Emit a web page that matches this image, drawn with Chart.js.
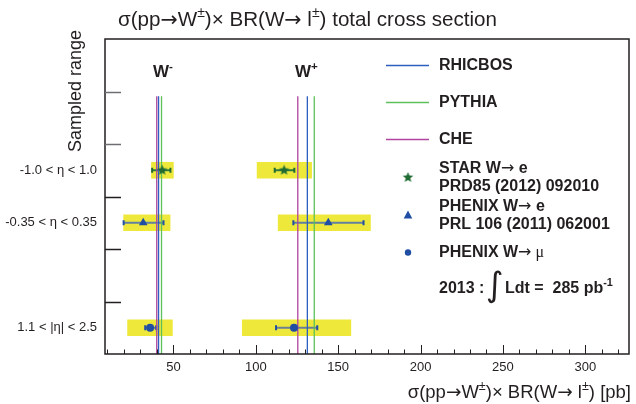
<!DOCTYPE html>
<html>
<head>
<meta charset="utf-8">
<script src="https://cdn.jsdelivr.net/npm/chart.js@4/dist/chart.umd.min.js"></script>
<style>
  html, body { margin: 0; background: #fff; }
</style>
</head>
<body>
<canvas id="c" width="636" height="404"></canvas>
<script>
// rows (eta ranges) and where they sit on the y scale (0 = top, 6 = bottom)
const ROWS   = ['-1.0 < η < 1.0', '-0.35 < η < 0.35', '1.1 < |η| < 2.5'];
const ROW_Y  = [2.5, 3.5, 5.5];
const Y_EDGES = [1, 2, 3, 4, 5];
const X_TICKS = [50, 100, 150, 200, 250, 300];

// STAR W->e  [W-, W+]
const STAR_X   = [43.2, 117.2];
const STAR_LO  = [37.1, 111.5];
const STAR_HI  = [48.2, 123.4];
const STAR_BOX = [[36.7, 50.0], [100.8, 133.9]];
// PHENIX W->e
const PHE_X   = [31.7, 144.0];
const PHE_LO  = [19.8, 122.8];
const PHE_HI  = [44.0, 165.4];
const PHE_BOX = [[19.8, 48.0], [113.6, 169.6]];
// PHENIX W->mu
const PHM_X   = [35.9, 123.2];
const PHM_LO  = [32.9, 112.3];
const PHM_HI  = [39.6, 137.3];
const PHM_BOX = [[22.2, 49.4], [91.8, 157.7]];
// theory [W-, W+]
const RHICBOS = [41.0, 131.3];
const PYTHIA  = [42.8, 135.5];
const CHE     = [39.9, 125.5];
const THEORY_Y = [1.09, 6];

const FONT = '"Liberation Sans", Arial, Helvetica, sans-serif';
const ARROW_FONT = '"DejaVu Sans", sans-serif';
const INK = '#231f20';
const YELLOW = '#eee83a';
const C_BLUE = '#2d5fbf', C_GREEN = '#5dc05a', C_MAG = '#b0449e';
const M_GREEN = '#1f6b32', M_BLUE = '#1f4ea3';

function starCanvas(r, col) {
  const s = Math.ceil(r * 2 + 2);
  const c = document.createElement('canvas');
  c.width = c.height = s;
  const g = c.getContext('2d');
  g.fillStyle = col;
  g.beginPath();
  for (let i = 0; i < 10; i++) {
    const rr = i % 2 ? r * 0.45 : r;
    const a = -Math.PI / 2 + i * Math.PI / 5;
    g.lineTo(s / 2 + rr * Math.cos(a), s / 2 + rr * Math.sin(a));
  }
  g.closePath(); g.fill();
  return c;
}
const STAR_IMG = starCanvas(5.5, M_GREEN);

const pts = (xs, y) => xs.map(x => ({ x, y }));
const boxes = (bs, y) => bs.map(b => ({ x: b, y }));
const errs = (lo, hi, y) => {
  const out = [];
  lo.forEach((l, i) => { if (i) out.push({ x: null, y: null }); out.push({ x: l, y }, { x: hi[i], y }); });
  return out;
};
const vline = (x) => THEORY_Y.map(y => ({ x, y }));

const datasets = [];
// yellow boxes
datasets.push({
  type: 'bar', indexAxis: 'y', order: 10,
  data: [...boxes(STAR_BOX, ROW_Y[0]), ...boxes(PHE_BOX, ROW_Y[1]), ...boxes(PHM_BOX, ROW_Y[2])],
  backgroundColor: YELLOW, borderWidth: 0, barThickness: 16, grouped: false,
});
// error bars
[[STAR_LO, STAR_HI, ROW_Y[0], '#2e7a3e', M_GREEN],
 [PHE_LO, PHE_HI, ROW_Y[1], '#62809f', M_BLUE],
 [PHM_LO, PHM_HI, ROW_Y[2], '#6d7f92', M_BLUE]].forEach(([lo, hi, y, lc, cc]) => {
  datasets.push({
    type: 'line', order: 8, data: errs(lo, hi, y), spanGaps: false,
    borderColor: lc, borderWidth: 2, pointStyle: 'line', rotation: 90,
    pointRadius: 2.5, pointBorderColor: cc, pointBorderWidth: 2,
  });
});
// theory lines
[[RHICBOS, C_BLUE], [PYTHIA, C_GREEN], [CHE, C_MAG]].forEach(([xs, col]) => {
  xs.forEach(x => datasets.push({
    type: 'line', order: 5, data: vline(x), borderColor: col, borderWidth: 1.3, pointRadius: 0,
  }));
});
// markers
datasets.push({ type: 'scatter', order: 1, data: pts(STAR_X, ROW_Y[0]), pointStyle: STAR_IMG, pointRadius: 6 });
datasets.push({ type: 'scatter', order: 1, data: pts(PHE_X, ROW_Y[1]), pointStyle: 'triangle', pointRadius: 5,
  backgroundColor: M_BLUE, borderColor: M_BLUE, borderWidth: 0 });
datasets.push({ type: 'scatter', order: 1, data: pts(PHM_X, ROW_Y[2]), pointStyle: 'circle', pointRadius: 4,
  backgroundColor: M_BLUE, borderColor: M_BLUE, borderWidth: 0 });

// text pieces: [text, isSup, fontFamily, weight]
function rich(ctx, parts, x, y, size, weight, align) {
  const f = (p) => `${p[3] || weight} ${p[1] ? size * 0.68 : size}px ${p[2] || FONT}`;
  let w = 0;
  parts.forEach(p => { ctx.font = f(p); w += ctx.measureText(p[0]).width; });
  let cx = align === 'right' ? x - w : align === 'center' ? x - w / 2 : x;
  ctx.textAlign = 'left'; ctx.textBaseline = 'alphabetic';
  parts.forEach(p => {
    ctx.font = f(p);
    ctx.fillText(p[0], cx, p[1] ? y - size * 0.42 : y);
    cx += ctx.measureText(p[0]).width;
  });
}
const AR = ['→', 0, ARROW_FONT, 'normal'];
const sigmaParts = (tail) => [['σ(pp'], AR, ['W'], ['±', 1], [')× BR(W'], AR, [' l'], ['±', 1], [tail]];

const decor = {
  id: 'decor',
  afterDraw(chart) {
    const { ctx, chartArea: a, scales: { x, y } } = chart;
    ctx.save();
    // frame
    ctx.strokeStyle = INK; ctx.lineWidth = 1.5;
    ctx.strokeRect(a.left, a.top, a.right - a.left, a.bottom - a.top);
    // y bin edges (inward)
    Y_EDGES.forEach((v, i) => {
      const py = Math.round(y.getPixelForValue(v)) + 0.5;
      ctx.strokeStyle = i < 2 ? '#6d6e71' : INK; ctx.lineWidth = 1.5;
      ctx.beginPath(); ctx.moveTo(a.left, py); ctx.lineTo(a.left + 16, py); ctx.stroke();
    });
    // x ticks (inward)
    ctx.strokeStyle = INK; ctx.lineWidth = 1;
    for (let v = 10; v <= 320; v += 10) {
      const px = Math.round(x.getPixelForValue(v)) + 0.5;
      const len = v % 50 === 0 ? 9 : 4.5;
      ctx.beginPath(); ctx.moveTo(px, a.bottom); ctx.lineTo(px, a.bottom - len); ctx.stroke();
    }
    ctx.fillStyle = INK;
    // title
    rich(ctx, sigmaParts(') total cross section'), 118, 26, 20.6, 'normal', 'left');
    // x title
    rich(ctx, sigmaParts(') [pb]'), 631, 398, 18.5, 'normal', 'right');
    // y title
    ctx.save();
    ctx.translate(80.5, 30); ctx.rotate(-Math.PI / 2);
    ctx.font = `18px ${FONT}`; ctx.textAlign = 'right'; ctx.textBaseline = 'alphabetic';
    ctx.fillText('Sampled range', 0, 0);
    ctx.restore();
    // W labels
    rich(ctx, [['W'], ['-', 1]], 153, 77, 17, 'bold', 'left');
    rich(ctx, [['W'], ['+', 1]], 295, 77, 17, 'bold', 'left');
    // legend
    [['RHICBOS', C_BLUE, 65], ['PYTHIA', C_GREEN, 102], ['CHE', C_MAG, 139]].forEach(([t, col, ly]) => {
      ctx.strokeStyle = col; ctx.lineWidth = 1.3;
      ctx.beginPath(); ctx.moveTo(386, ly + 0.5); ctx.lineTo(429, ly + 0.5); ctx.stroke();
      ctx.fillStyle = INK; ctx.font = `bold 16px ${FONT}`; ctx.textBaseline = 'middle'; ctx.textAlign = 'left';
      ctx.fillText(t, 439, ly + 1);
    });
    ctx.drawImage(STAR_IMG, 408 - STAR_IMG.width / 2, 177.5 - STAR_IMG.height / 2);
    ctx.fillStyle = M_BLUE;
    ctx.beginPath(); ctx.moveTo(408, 210.5); ctx.lineTo(412.3, 218.5); ctx.lineTo(403.7, 218.5); ctx.closePath(); ctx.fill();
    ctx.beginPath(); ctx.arc(408, 252.5, 3.2, 0, Math.PI * 2); ctx.fill();
    ctx.fillStyle = INK;
    rich(ctx, [['STAR W'], AR, [' e']], 439, 173, 16, 'bold', 'left');
    rich(ctx, [['PRD85 (2012) 092010']], 439, 191, 16, 'bold', 'left');
    rich(ctx, [['PHENIX W'], AR, [' e']], 439, 211, 16, 'bold', 'left');
    rich(ctx, [['PRL 106 (2011) 062001']], 439, 229, 16, 'bold', 'left');
    rich(ctx, [['PHENIX W'], AR, [' μ', 0, '"Liberation Serif", serif', 'normal']], 439, 257, 16, 'bold', 'left');
    rich(ctx, [['2013 :']], 439, 293, 16, 'bold', 'left');
    ctx.font = `34px "DejaVu Sans", sans-serif`; ctx.textAlign = 'left'; ctx.textBaseline = 'alphabetic';
    ctx.fillText('∫', 486, 296);
    rich(ctx, [['Ldt =  285 pb'], ['-1', 1]], 505, 293, 16, 'bold', 'left');
    ctx.restore();
  }
};

new Chart(document.getElementById('c'), {
  type: 'scatter',
  data: { datasets },
  options: {
    responsive: false, animation: false,
    layout: { padding: { top: 39, right: 5, left: 0, bottom: 0 } },
    plugins: { legend: { display: false }, tooltip: { enabled: false } },
    scales: {
      x: {
        type: 'linear', min: 8.5, max: 326.5, offset: false,
        afterBuildTicks: s => { s.ticks = X_TICKS.map(v => ({ value: v })); },
        afterFit: s => { s.height = 50; },
        grid: { display: false, drawTicks: false }, border: { display: false },
        ticks: { padding: 6, maxRotation: 0, color: INK, font: { size: 13, family: FONT } },
      },
      y: {
        type: 'linear', min: 0, max: 6, reverse: true, offset: false,
        afterBuildTicks: s => { s.ticks = ROW_Y.map(v => ({ value: v })); },
        afterFit: s => { s.width = 105; },
        grid: { display: false, drawTicks: false }, border: { display: false },
        ticks: { padding: 8, autoSkip: false, color: INK, font: { size: 13, family: FONT },
          callback: (v, i) => ROWS[i] },
      },
    },
  },
  plugins: [decor],
});
</script>
</body>
</html>
